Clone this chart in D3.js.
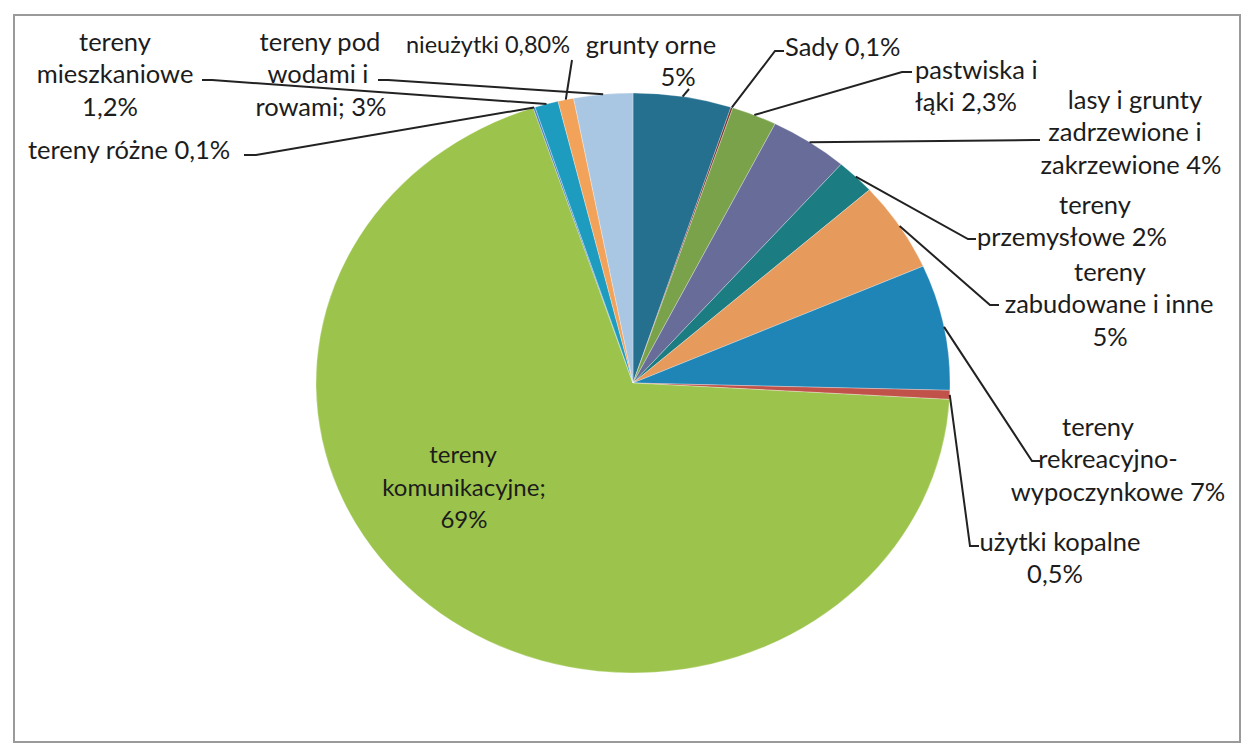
<!DOCTYPE html>
<html>
<head>
<meta charset="utf-8">
<script src="https://cdn.jsdelivr.net/npm/d3@7"></script>
<style>
  body { margin: 0; background: #fff; }
  text { font-family: Lato, "Open Sans", sans-serif; fill: #1c1c1c; }
</style>
</head>
<body>
<div id="chart"></div>
<script>
// Data (clockwise from 12 o'clock)
const categories = [
    "grunty orne", "Sady", "pastwiska i łąki", "lasy i grunty zadrzewione i zakrzewione",
    "tereny przemysłowe", "tereny zabudowane i inne", "tereny rekreacyjno-wypoczynkowe",
    "użytki kopalne", "tereny komunikacyjne", "tereny różne", "tereny mieszkaniowe",
    "nieużytki", "tereny pod wodami i rowami"
];
const values = [5, 0.1, 2.3, 4, 2, 5, 7, 0.5, 69, 0.1, 1.2, 0.8, 3];
const labelTexts = [
    ["grunty orne", "5%"],
    ["Sady 0,1%"],
    ["pastwiska i", "łąki 2,3%"],
    ["lasy i grunty", "zadrzewione i", "zakrzewione 4%"],
    ["tereny", "przemysłowe 2%"],
    ["tereny", "zabudowane i inne", "5%"],
    ["tereny", "rekreacyjno-", "wypoczynkowe 7%"],
    ["użytki kopalne", "0,5%"],
    ["tereny", "komunikacyjne;", "69%"],
    ["tereny różne 0,1%"],
    ["tereny", "mieszkaniowe", "1,2%"],
    ["nieużytki 0,80%"],
    ["tereny pod", "wodami i", "rowami; 3%"]
];
const colors = [
    "#25708f", "#7a2f2c", "#79a24b", "#676c98", "#1b7d81", "#e69a5c", "#1f84b6",
    "#c0524a", "#9cc44c", "#4f81bd", "#1e9cc0", "#f3a25a", "#a9c7e2"
];

// Layout of labels: x of each line, y of first line, anchor, font size, leader (tick end, elbow)
const labelLayout = [
    { xs: [651, 678], y: 45, anchor: "middle", size: 25.5, leader: [[689, 89]] },
    { xs: [785], y: 47, anchor: "start", size: 25.5, leader: [[784, 51], [775, 51]] },
    { xs: [915, 915], y: 70, anchor: "start", size: 25.5, leader: [[912, 72], [902, 72]] },
    { xs: [1135, 1125, 1131], y: 100, anchor: "middle", size: 25.5, leader: [[1040, 140], [1034, 140]] },
    { xs: [1095, 1072], y: 205, anchor: "middle", size: 25.5, leader: [[976, 239], [968, 239]] },
    { xs: [1110, 1109, 1110], y: 272, anchor: "middle", size: 25.5, leader: [[999, 305], [990, 305]] },
    { xs: [1098, 1108, 1118], y: 427, anchor: "middle", size: 25.5, leader: [[1040, 461], [1032, 461]] },
    { xs: [1060, 1055], y: 542, anchor: "middle", size: 25.5, leader: [[979, 546], [970, 546]] },
    { xs: [463, 464, 464], y: 455, anchor: "middle", size: 24, leader: null },
    { xs: [28], y: 150, anchor: "start", size: 25.5, leader: [[244, 155], [256, 155]] },
    { xs: [115, 115, 110], y: 42, anchor: "middle", size: 25.5, leader: [[202, 80], [212, 80]] },
    { xs: [570], y: 45, anchor: "end", size: 23.5, leader: [[572, 60]] },
    { xs: [320, 318, 321], y: 42, anchor: "middle", size: 25.5, leader: [[378, 80], [388, 80]] }
];

const width = 1247, height = 748;
const cx = 633, cy = 383, rx = 317, ry = 290;
const lineGap = 32.5;

const svg = d3.select("#chart").append("svg")
    .attr("width", width)
    .attr("height", height);

// Frame
svg.append("rect")
    .attr("x", 14).attr("y", 15)
    .attr("width", 1226).attr("height", 727)
    .attr("fill", "none")
    .attr("stroke", "#9a9a9a")
    .attr("stroke-width", 2);

const data = categories.map((c, i) => ({ category: c, value: values[i], i }));

const pie = d3.pie().value(d => d.value).sort(null);
const arcs = pie(data);

const arc = d3.arc().innerRadius(0).outerRadius(rx);

const g = svg.append("g")
    .attr("transform", `translate(${cx},${cy}) scale(1,${ry / rx})`);

g.selectAll("path")
    .data(arcs)
    .enter().append("path")
    .attr("d", arc)
    .attr("fill", d => colors[d.data.i])
    .attr("stroke", "#ffffff")
    .attr("stroke-opacity", 0.5)
    .attr("stroke-width", 0.6);

// Point on pie edge at middle of a slice
function edgePoint(d) {
    const a = (d.startAngle + d.endAngle) / 2;
    return [cx + rx * Math.sin(a), cy - ry * Math.cos(a)];
}

// Leader lines
arcs.forEach(d => {
    const lay = labelLayout[d.data.i];
    if (!lay.leader) return;
    const pts = lay.leader.concat([edgePoint(d)]);
    svg.append("path")
        .attr("d", d3.line()(pts))
        .attr("fill", "none")
        .attr("stroke", "#222")
        .attr("stroke-width", 2);
});

// Labels
arcs.forEach(d => {
    const lay = labelLayout[d.data.i];
    const t = svg.append("text")
        .attr("text-anchor", lay.anchor)
        .style("font-size", lay.size + "px");
    labelTexts[d.data.i].forEach((line, k) => {
        t.append("tspan")
            .attr("x", lay.xs[k])
            .attr("y", lay.y + k * lineGap)
            .attr("dy", "0.35em")
            .text(line);
    });
});
</script>
</body>
</html>
